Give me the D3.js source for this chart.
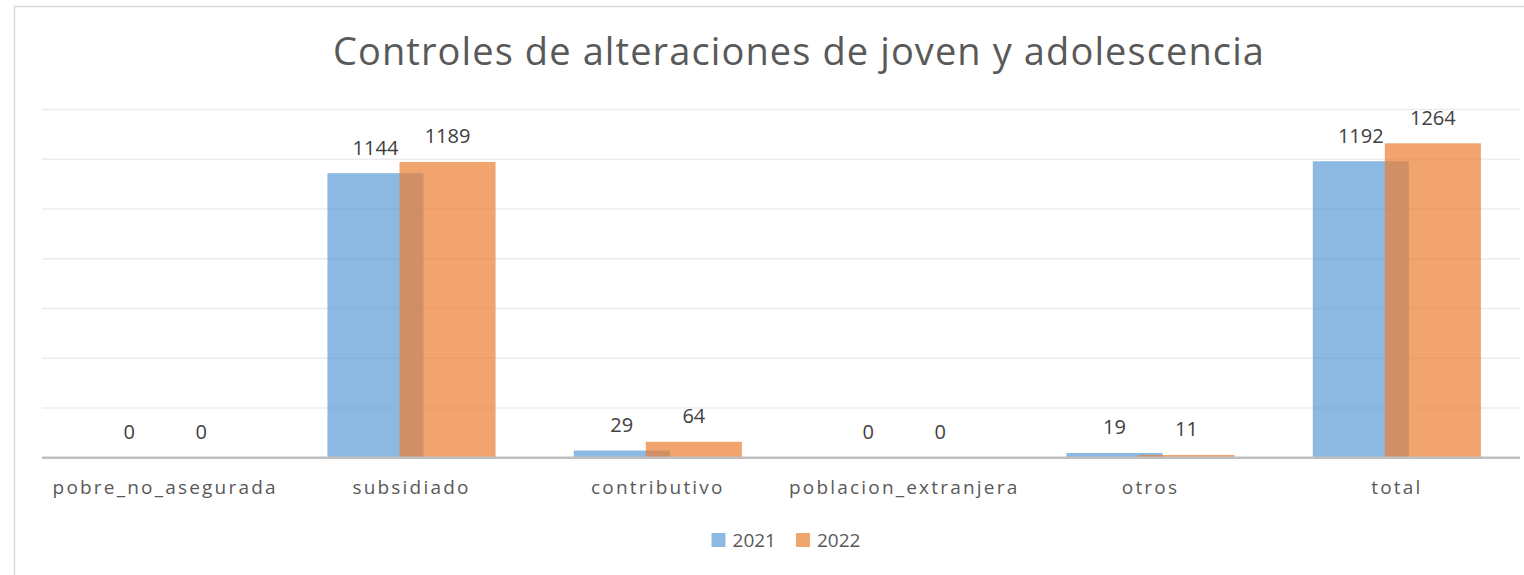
<!DOCTYPE html>
<html>
<head>
<meta charset="utf-8">
<script src="https://cdn.jsdelivr.net/npm/d3@7"></script>
<style>
  body { margin: 0; background: #fff; }
  svg { display: block; font-family: "Open Sans", "DejaVu Sans", sans-serif; }
</style>
</head>
<body>
<div id="chart"></div>
<script>
// data
var categories = ["pobre_no_asegurada", "subsidiado", "contributivo", "poblacion_extranjera", "otros", "total"];
var values2021 = [0, 1144, 29, 0, 19, 1192];
var values2022 = [0, 1189, 64, 0, 11, 1264];
var seriesNames = ["2021", "2022"];
var yTicks = [0, 200, 400, 600, 800, 1000, 1200, 1400];
var titleText = "Controles de alteraciones de joven y adolescencia";

var width = 1524, height = 575;
var colorSeries = ["#5B9BD5", "#ED7D31"];
var barOpacity = 0.7;

var svg = d3.select("#chart").append("svg")
	.attr("width", width)
	.attr("height", height);

// chart area border (right/bottom run off the picture)
svg.append("rect")
	.attr("x", 14.5)
	.attr("y", 6.5)
	.attr("width", width + 20)
	.attr("height", height + 20)
	.attr("fill", "#fff")
	.attr("stroke", "#d9d9d9")
	.attr("stroke-width", 1.5);

var xScale = d3.scaleBand()
	.domain(categories)
	.range([42, 1520])
	.padding(0);

var yScale = d3.scaleLinear()
	.domain([0, 1400])
	.range([457.7, 109.5]);

// gridlines
svg.append("g")
	.selectAll("line")
	.data(yTicks.filter(function (d) { return d > 0; }))
	.enter().append("line")
	.attr("x1", xScale.range()[0])
	.attr("x2", xScale.range()[1])
	.attr("y1", function (d) { return yScale(d); })
	.attr("y2", function (d) { return yScale(d); })
	.attr("stroke", "#ececec")
	.attr("stroke-width", 1.6);

// bars
var band = xScale.bandwidth();
var barW = band * 0.39;
var overlap = 0.25;
var groupW = barW * (2 - overlap);

function barX(i, s) {
	return xScale(categories[i]) + band / 2 - groupW / 2 + s * barW * (1 - overlap);
}

var seriesData = [values2021, values2022];

seriesData.forEach(function (vals, s) {
	svg.append("g")
		.selectAll("rect")
		.data(vals)
		.enter().append("rect")
		.attr("x", function (d, i) { return barX(i, s); })
		.attr("y", function (d) { return yScale(d); })
		.attr("width", barW)
		.attr("height", function (d) { return yScale(0) - yScale(d); })
		.attr("fill", colorSeries[s])
		.attr("fill-opacity", barOpacity);
});

// baseline
svg.append("line")
	.attr("x1", xScale.range()[0])
	.attr("x2", xScale.range()[1])
	.attr("y1", yScale(0))
	.attr("y2", yScale(0))
	.attr("stroke", "#bfbfbf")
	.attr("stroke-width", 2.5);

// value labels
seriesData.forEach(function (vals, s) {
	svg.append("g")
		.selectAll("text")
		.data(vals)
		.enter().append("text")
		.attr("x", function (d, i) { return barX(i, s) + barW / 2; })
		.attr("y", function (d) { return yScale(d) - 18.5; })
		.attr("text-anchor", "middle")
		.attr("font-size", 20)
		.attr("fill", "#404040")
		.text(function (d) { return d; });
});

// category labels
svg.append("g")
	.selectAll("text")
	.data(categories)
	.enter().append("text")
	.attr("x", function (d) { return xScale(d) + band / 2; })
	.attr("y", 494)
	.attr("text-anchor", "middle")
	.attr("font-size", 19)
	.attr("letter-spacing", 2.2)
	.attr("fill", "#595959")
	.text(function (d) { return d; });

// title
svg.append("text")
	.attr("x", 799)
	.attr("y", 65)
	.attr("text-anchor", "middle")
	.attr("font-size", 38)
	.attr("letter-spacing", 1.1)
	.attr("fill", "#595959")
	.text(titleText);

// legend
var legend = svg.append("g");
var lx = 0;
seriesNames.forEach(function (name, s) {
	legend.append("rect")
		.attr("x", lx)
		.attr("y", -14)
		.attr("width", 14)
		.attr("height", 14)
		.attr("fill", colorSeries[s])
		.attr("fill-opacity", barOpacity);
	var t = legend.append("text")
		.attr("x", lx + 21)
		.attr("y", 0)
		.attr("font-size", 19)
		.attr("fill", "#595959")
		.text(name);
	lx += 21 + t.node().getComputedTextLength() + 20;
});
var legendW = lx - 20;
legend.attr("transform", "translate(" + (786 - legendW / 2) + ",547)");
</script>
</body>
</html>
